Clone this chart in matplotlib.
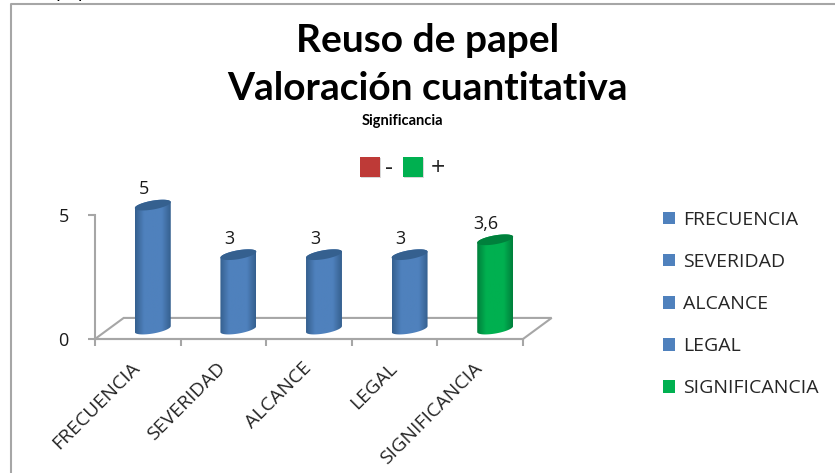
import numpy as np
import matplotlib
matplotlib.use("Agg")
import matplotlib.pyplot as plt
from matplotlib.colors import LinearSegmentedColormap
from matplotlib.patches import Patch, PathPatch, Polygon, Rectangle
from matplotlib.path import Path

categories = ["FRECUENCIA", "SEVERIDAD", "ALCANCE", "LEGAL", "SIGNIFICANCIA"]
values = [5, 3, 3, 3, 3.6]
value_labels = ["5", "3", "3", "3", "3,6"]
bar_colors = ["#4F81BD", "#4F81BD", "#4F81BD", "#4F81BD", "#00B050"]
y_ticks = [0, 5]

W, H = 835, 473
plt.rcParams["font.family"] = ["Open Sans", "DejaVu Sans"]

fig = plt.figure(figsize=(W / 100, H / 100), dpi=100)


def px_box(x0, y0, x1, y1):
    return [x0 / W, 1 - y1 / H, (x1 - x0) / W, (y1 - y0) / H]


# page frame
bg = fig.add_axes([0, 0, 1, 1])
bg.set_xlim(0, W)
bg.set_ylim(H, 0)
bg.axis("off")
bg.plot([11, 11, W], [H, 4.5, 4.5], color="#A6A6A6", lw=1.5)
bg.text(55, -3, "papel", fontsize=14, color="black", va="baseline", clip_on=True)

# titles
bg.text(428, 40, "Reuso de papel", fontsize=28, fontweight="bold", family="Lato",
        ha="center", va="center")
bg.text(427, 89, "Valoración cuantitativa", fontsize=28, fontweight="bold", family="Lato",
        ha="center", va="center")
bg.text(402, 121, "Significancia", fontsize=10.5, fontweight="bold", family="Lato",
        ha="center", va="center")

# small - / + key
bg.add_patch(Rectangle((361, 158), 20, 20, fc="#BFBFBF", ec="none", alpha=0.6))
bg.add_patch(Rectangle((360, 157), 20, 20, fc="#BE3A37", ec="none"))
bg.add_patch(Rectangle((404, 158), 20, 20, fc="#BFBFBF", ec="none", alpha=0.6))
bg.add_patch(Rectangle((403, 157), 20, 20, fc="#00B050", ec="none"))
bg.text(389, 168, "-", fontsize=18, ha="center", va="center", color="#262626")
bg.text(438, 168, "+", fontsize=18, ha="center", va="center", color="#262626")

# chart
ax = fig.add_axes(px_box(95, 215, 523, 339))
ax.patch.set_visible(False)
n = len(categories)
x = np.arange(n) + 0.5
dx_depth = 0.335  # floor depth in category units
dy_depth = 0.85   # floor depth in value units

ax.add_patch(Polygon([(0, 0), (n, 0), (n + dx_depth, dy_depth), (dx_depth, dy_depth)],
                     closed=True, fc="white", ec="#A6A6A6", lw=1.5, clip_on=False))

bar_w = 0.42
bar_dx = 0.175
bar_dy = 0.4
ell_h = 0.18
t = np.linspace(0, 2 * np.pi, 60)

for xi, v, c in zip(x, values, bar_colors):
    dark = "#00803C" if c == "#00B050" else "#35608F"
    cmap = LinearSegmentedColormap.from_list("cyl", [dark, c, c, c, dark])
    xc = xi + bar_dx
    ex = bar_w / 2 * np.cos(t)
    ey = ell_h * np.sin(t) + 0.12 * ex / (bar_w / 2)
    base_y = bar_dy
    top_y = v + bar_dy
    # body outline: lower half of base ellipse and top ellipse
    low = t[(t >= np.pi) & (t <= 2 * np.pi)]
    up = t[t <= np.pi]
    bx = bar_w / 2 * np.cos(low)
    by = ell_h * np.sin(low) + 0.12 * bx / (bar_w / 2)
    ux = bar_w / 2 * np.cos(up)
    uy = ell_h * np.sin(up) + 0.12 * ux / (bar_w / 2)
    verts = np.vstack([np.c_[xc + bx, base_y + by], np.c_[xc + ux, top_y + uy]])
    clip = PathPatch(Path(np.vstack([verts, verts[0]])), transform=ax.transData, fc="none", ec="none",
                     clip_on=False)
    ax.add_patch(clip)
    im = ax.imshow(np.linspace(0, 1, 64).reshape(1, -1),
                   extent=(xc - bar_w / 2, xc + bar_w / 2, 0, top_y + 0.4),
                   cmap=cmap, aspect="auto", zorder=3)
    im.set_clip_path(clip)
    im.set_clip_box(fig.bbox)
    ax.add_patch(Polygon(np.c_[xc + ex, top_y + ey], closed=True, fc=dark, ec="none", zorder=4, clip_on=False))

for xi, v, lab in zip(x, values, value_labels):
    ax.annotate(lab, (xi + bar_dx, v + bar_dy), xytext=(-9, 7), textcoords="offset pixels",
                ha="center", va="bottom", fontsize=13, color="#1a1a1a", annotation_clip=False)

ax.set_xlim(0, n)
ax.set_ylim(0, 5)
ax.set_xticks(np.arange(n + 1))
ax.set_xticklabels([])
ax.set_yticks(y_ticks)
ax.tick_params(axis="both", color="#A6A6A6", width=1.5, length=5)
ax.tick_params(axis="y", labelsize=13, pad=14, labelcolor="#1a1a1a")
for s in ["top", "right"]:
    ax.spines[s].set_visible(False)
for s in ["left", "bottom"]:
    ax.spines[s].set_color("#A6A6A6")
    ax.spines[s].set_linewidth(1.5)

# rotated category labels end near each tick
for xi, lab in zip(x, categories):
    ax.annotate(lab, (xi, 0), xytext=(-7, -20), textcoords="offset pixels", rotation=45,
                rotation_mode="anchor", ha="right", va="top", fontsize=14, color="#262626",
                annotation_clip=False)

handles = [Patch(fc=c, ec="none") for c in bar_colors]
fig.legend(handles, categories, loc="upper left", bbox_to_anchor=(657 / W, 1 - 205 / H),
           frameon=False, fontsize=14, labelspacing=1.24, handlelength=0.62, handleheight=0.62,
           handletextpad=0.41, labelcolor="#262626", borderpad=0.3, borderaxespad=0)

fig.savefig("out.png", dpi=100)
